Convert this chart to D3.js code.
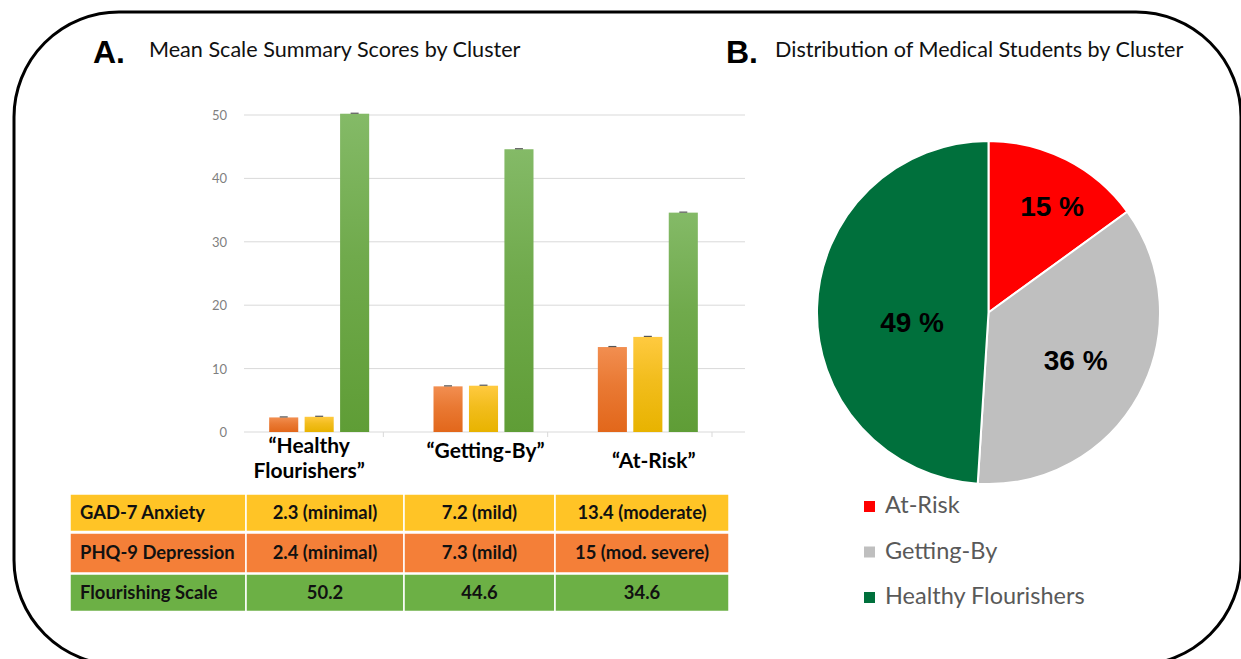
<!DOCTYPE html>
<html lang="en">
<head>
<meta charset="utf-8">
<title>Clusters</title>
<script src="https://d3js.org/d3.v7.min.js"></script>
<style>
  body { margin: 0; background: #fff; }
  svg { display: block; font-family: Lato, "Open Sans", sans-serif; }
  .panel { font-size: 21.6px; fill: #111; }
  .letter { font-family: "Liberation Sans", Arial, sans-serif; font-size: 32px; font-weight: 700; fill: #000; }
  .ytick { font-size: 13px; fill: #7f7f7f; }
  .cat { font-size: 21px; font-weight: 700; fill: #000; }
  .cell { font-size: 18.4px; font-weight: 700; fill: #111; }
  .pct { font-family: "Liberation Sans", Arial, sans-serif; font-size: 28px; font-weight: 700; fill: #000; }
  .legend { font-size: 23.5px; fill: #595959; }
</style>
</head>
<body>
<svg width="1241" height="659"></svg>
<script>
// ---- data ----
var clusters = ["Healthy Flourishers", "Getting-By", "At-Risk"];
var clusterLines = [["\u201cHealthy", "Flourishers\u201d"], ["\u201cGetting-By\u201d"], ["\u201cAt-Risk\u201d"]];
var scales = ["GAD-7 Anxiety", "PHQ-9 Depression", "Flourishing Scale"];
var gad7 = [2.3, 7.2, 13.4];
var phq9 = [2.4, 7.3, 15];
var flourishing = [50.2, 44.6, 34.6];
var gad7Text = ["2.3 (minimal)", "7.2 (mild)", "13.4 (moderate)"];
var phq9Text = ["2.4 (minimal)", "7.3 (mild)", "15 (mod. severe)"];
var flourText = ["50.2", "44.6", "34.6"];
var yTicks = [0, 10, 20, 30, 40, 50];

var pieLabels = ["At-Risk", "Getting-By", "Healthy Flourishers"];
var pieShares = [15, 36, 49];

var svg = d3.select("svg");

// frame
svg.append("rect")
  .attr("x", 14).attr("y", 12)
  .attr("width", 1227).attr("height", 653)
  .attr("rx", 105).attr("ry", 105)
  .attr("fill", "none").attr("stroke", "#000").attr("stroke-width", 3);

// panel titles
svg.append("text").attr("class", "letter").attr("x", 93).attr("y", 63).text("A.");
svg.append("text").attr("class", "panel").attr("x", 149).attr("y", 57).text("Mean Scale Summary Scores by Cluster");
svg.append("text").attr("class", "letter").attr("x", 726).attr("y", 63).text("B.");
svg.append("text").attr("class", "panel").attr("x", 775).attr("y", 57).text("Distribution of Medical Students by Cluster");

// ---- A: grouped bars ----
var defs = svg.append("defs");
var barColors = [["#f28e50", "#e2671b"], ["#ffca40", "#e8b300"], ["#84ba67", "#5f9d36"]];
barColors.forEach(function(c, i) {
  var g = defs.append("linearGradient").attr("id", "grad" + i)
    .attr("x1", 0).attr("y1", 0).attr("x2", 0).attr("y2", 1);
  g.append("stop").attr("offset", "0%").attr("stop-color", c[0]);
  g.append("stop").attr("offset", "45%").attr("stop-color", d3.interpolateRgb(c[0], c[1])(0.55));
  g.append("stop").attr("offset", "100%").attr("stop-color", c[1]);
});

var y = d3.scaleLinear().domain([0, 50]).range([432, 115]);
var x0 = d3.scaleBand().domain(clusters).range([237, 730]);
var x1 = d3.scaleBand().domain(scales).range([0, 100]).paddingInner(0.18);
var gridLeft = 244, gridRight = 745;

var chart = svg.append("g");
chart.selectAll(".grid").data(yTicks).join("line")
  .attr("x1", gridLeft).attr("x2", gridRight)
  .attr("y1", d => y(d)).attr("y2", d => y(d))
  .attr("stroke", "#d9d9d9").attr("stroke-width", 1);

chart.selectAll(".ytick").data(yTicks).join("text")
  .attr("class", "ytick")
  .attr("x", 227).attr("y", d => y(d) + 5)
  .attr("text-anchor", "end")
  .text(d => d);

// category dividers on the base line
chart.selectAll(".ctick").data(clusters).join("line")
  .attr("x1", d => x0(d) + x0.step() - 18).attr("x2", d => x0(d) + x0.step() - 18)
  .attr("y1", y(0)).attr("y2", y(0) + 5)
  .attr("stroke", "#d9d9d9");

var rows = clusters.map(function(c, i) {
  return [gad7[i], phq9[i], flourishing[i]];
});

var groups = chart.selectAll(".grp").data(clusters).join("g")
  .attr("transform", d => "translate(" + (x0(d) + x0.bandwidth() / 2 - 50) + ",0)");

groups.each(function(c, i) {
  var g = d3.select(this);
  var vals = scales.map((s, k) => ({ s: s, k: k, v: rows[i][k] }));
  g.selectAll("rect").data(vals).join("rect")
    .attr("x", d => x1(d.s))
    .attr("y", d => y(d.v))
    .attr("width", x1.bandwidth())
    .attr("height", d => y(0) - y(d.v))
    .attr("fill", d => "url(#grad" + d.k + ")");
  // small error caps
  g.selectAll("line").data(vals).join("line")
    .attr("x1", d => x1(d.s) + x1.bandwidth() / 2 - 4)
    .attr("x2", d => x1(d.s) + x1.bandwidth() / 2 + 4)
    .attr("y1", d => y(d.v) - 0.5).attr("y2", d => y(d.v) - 0.5)
    .attr("stroke", "#555").attr("stroke-width", 1.2);
});

// category names under the axis
var catDx = [-10, 2, 6];
var catY = [453, 458, 468];
clusters.forEach(function(c, i) {
  var t = chart.append("text").attr("class", "cat")
    .attr("text-anchor", "middle")
    .attr("x", x0(c) + x0.bandwidth() / 2 + catDx[i])
    .attr("y", catY[i]);
  clusterLines[i].forEach(function(line, j) {
    t.append("tspan")
      .attr("x", x0(c) + x0.bandwidth() / 2 + catDx[i])
      .attr("dy", j === 0 ? 0 : 25)
      .text(line);
  });
});

// ---- summary table ----
var colEdges = [70, 246, 404, 555, 729];
var rowTops = [494, 533, 574];
var rowH = [37.5, 40, 37.5];
var rowFill = ["#ffc426", "#f47f38", "#6cb045"];
var tableText = [gad7Text, phq9Text, flourText];

var table = svg.append("g");
scales.forEach(function(s, r) {
  var cells = [s].concat(tableText[r]);
  cells.forEach(function(txt, c) {
    table.append("rect")
      .attr("x", colEdges[c]).attr("y", rowTops[r])
      .attr("width", colEdges[c + 1] - colEdges[c]).attr("height", rowH[r])
      .attr("fill", rowFill[r])
      .attr("stroke", "#fff").attr("stroke-width", 1.5);
    table.append("text").attr("class", "cell")
      .attr("x", c === 0 ? colEdges[0] + 10 : (colEdges[c] + colEdges[c + 1]) / 2)
      .attr("y", rowTops[r] + rowH[r] / 2 + 6)
      .attr("text-anchor", c === 0 ? "start" : "middle")
      .text(txt);
  });
});

// ---- B: pie ----
var pieColors = ["#ff0000", "#bfbfbf", "#00703c"];
var cx = 988.5, cy = 312.5, R = 171.5;
var pie = d3.pie().sort(null).value(d => d)(pieShares);
var arc = d3.arc().innerRadius(0).outerRadius(R);
var pg = svg.append("g").attr("transform", "translate(" + cx + "," + cy + ")");
pg.selectAll("path").data(pie).join("path")
  .attr("d", arc)
  .attr("fill", (d, i) => pieColors[i])
  .attr("stroke", "#fff").attr("stroke-width", 2);

var labelR = [0.72, 0.58, 0.45];
var labelNudge = [4, 0, -9.6];
pg.selectAll(".pct").data(pie).join("text")
  .attr("class", "pct")
  .attr("text-anchor", "middle")
  .attr("dominant-baseline", "central")
  .attr("x", (d, i) => Math.sin((d.startAngle + d.endAngle) / 2 + labelNudge[i] * Math.PI / 180) * R * labelR[i])
  .attr("y", (d, i) => -Math.cos((d.startAngle + d.endAngle) / 2 + labelNudge[i] * Math.PI / 180) * R * labelR[i])
  .text(d => d.data + " %");

// legend
var lg = svg.append("g").attr("transform", "translate(864,501)");
pieLabels.forEach(function(name, i) {
  lg.append("rect").attr("x", 0).attr("y", i * 45.5).attr("width", 11).attr("height", 11).attr("fill", pieColors[i]);
  lg.append("text").attr("class", "legend").attr("x", 21).attr("y", i * 45.5 + 12).text(name);
});
</script>
</body>
</html>
